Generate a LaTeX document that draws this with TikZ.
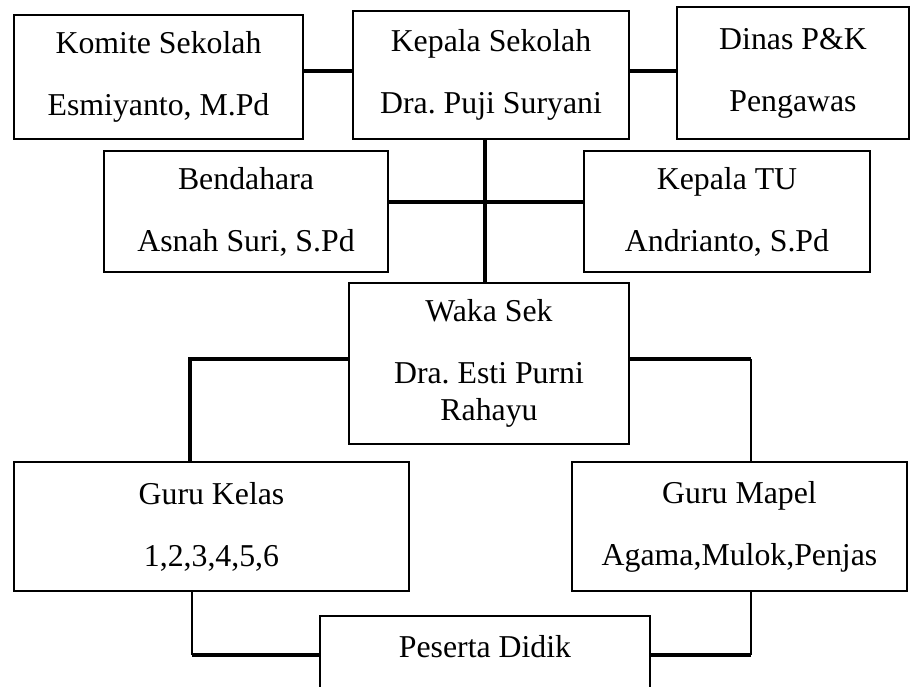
\documentclass[tikz,border=0pt]{standalone}
\usepackage{fontspec}
\setmainfont{Liberation Serif}
\usetikzlibrary{calc}
\frenchspacing

\begin{document}
\begin{tikzpicture}[x=1pt, y=-1pt, font=\fontsize{31.8}{37}\selectfont,
                    box/.style 2 args={draw, line width=1.1pt, inner sep=0pt, align=center,
                                       minimum width=#1pt, minimum height=#2pt},
                    thickline/.style={line width=3.2pt},
                    midline/.style={line width=2pt}]

                    \useasboundingbox (0,0) rectangle (910,686);
                    \clip (0,0) rectangle (910,686);

                    \node[box={289}{124}] (komite) at (158.5,77) {Komite Sekolah\\[25pt]Esmiyanto, M.Pd};
                    \node[box={276}{128}] (kepsek) at (491,75) {Kepala Sekolah\\[25pt]Dra. Puji Suryani};
                    \node[box={232}{132}] (dinas) at (793,73) {Dinas P\&K\\[25pt]Pengawas};
                    \node[box={284}{121}] (bendahara) at (246,211.5) {Bendahara\\[25pt]Asnah Suri, S.Pd};
                    \node[box={286}{121}] (katu) at (727,211.5) {Kepala TU\\[25pt]Andrianto, S.Pd};
                    \node[box={280}{161}] (waka) at (489,363.5) {Waka Sek\\[25pt]Dra. Esti Purni\\Rahayu};
                    \node[box={395}{129}] (gurukelas) at (211.5,526.5) {Guru Kelas\\[25pt]1,2,3,4,5,6};
                    \node[box={335}{129}] (gurumapel) at (739.5,526.5) {Guru Mapel\\[25pt]Agama,Mulok,Penjas};
                    \node[box={330}{124}, text height=41pt, text depth=83pt] (peserta) at (485,678) {Peserta Didik};

                    \coordinate (kl) at ([yshift=4pt]kepsek.west);
                    \coordinate (kr) at ([yshift=4pt]kepsek.east);
                    \coordinate (spine) at ([xshift=-6pt]kepsek.south);
                    \coordinate (mid) at ([yshift=9.5pt]bendahara.east);
                    \coordinate (wl) at ([yshift=4.5pt]waka.west);
                    \coordinate (wr) at ([yshift=4.5pt]waka.east);
                    \coordinate (gk) at ([xshift=-21.5pt]gurukelas.north);
                    \coordinate (gm) at ([xshift=11.5pt]gurumapel.north);
                    \coordinate (gks) at ([xshift=-19.5pt]gurukelas.south);
                    \coordinate (gms) at ([xshift=11.5pt]gurumapel.south);
                    \coordinate (pl) at ([yshift=23pt]peserta.west);
                    \coordinate (pr) at ([yshift=23pt]peserta.east);

                    \draw[thickline] (kl -| komite.east) -- (kl);
                    \draw[thickline] (kr) -- (kr -| dinas.west);
                    \draw[thickline] (spine) -- (spine |- waka.north);
                    \draw[thickline] (mid) -- (mid -| katu.west);
                    \draw[thickline] (wl) -| (gk);
                    \draw[thickline] (wr) -- (wr -| gm);
                    \draw[midline] (wr -| gm) -- (gm);
                    \draw[midline] (gks) -- (gks |- pl);
                    \draw[thickline] (gks |- pl) -- (pl);
                    \draw[midline] (gms) -- (gms |- pr);
                    \draw[thickline] (gms |- pr) -- (pr);
\end{tikzpicture}
\end{document}
